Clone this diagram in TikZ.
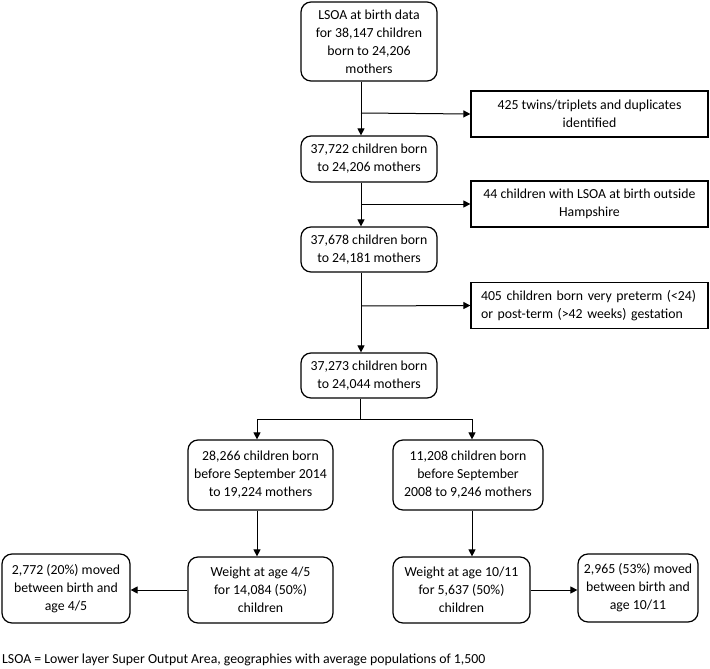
\documentclass[tikz,border=0pt]{standalone}
\usepackage{fontspec}
\setmainfont{Carlito}
\usetikzlibrary{arrows.meta}
\begin{document}
\begin{tikzpicture}[x=1pt,y=-1pt,
  every node/.style={font=\fontsize{13.8}{18}\selectfont, inner sep=0pt},
  rbox/.style={draw, line width=1.2pt, rounded corners=10pt, align=center},
  ebox/.style={draw, line width=1.2pt, align=center, minimum width=237pt, minimum height=46pt},
  conn/.style={line width=1pt},
  arr/.style={conn, -{Triangle[length=7pt,width=7pt]}}]
\useasboundingbox (0,0) rectangle (710,669);
% main column
\node[rbox, minimum width=136pt, minimum height=79pt] (b1) at (369,41.5) {LSOA at birth data\\for 38,147 children\\born to 24,206\\mothers};
\node[rbox, minimum width=136pt, minimum height=46pt] (b2) at (369,159) {37,722 children born\\to 24,206 mothers};
\node[rbox, minimum width=136pt, minimum height=45pt] (b3) at (369,249.5) {37,678 children born\\to 24,181 mothers};
\node[rbox, minimum width=136pt, minimum height=45pt] (b4) at (369,375.5) {37,273 children born\\to 24,044 mothers};
% exclusion boxes
\node[ebox] (e1) at (589.5,114) {425 twins/triplets and duplicates\\identified};
\node[ebox] (e2) at (589.5,204) {44 children with LSOA at birth outside\\Hampshire};
\node[ebox, align=left, text width=217pt] (e3) at (589.5,305.5) {405 children born very preterm (<24)\\or post-term (>42 weeks) gestation};
% branches
\node[rbox, minimum width=145pt, minimum height=70pt] (b5) at (260.5,475) {28,266 children born\\before September 2014\\to 19,224 mothers};
\node[rbox, minimum width=150pt, minimum height=70pt] (b6) at (468,475) {11,208 children born\\before September\\2008 to 9,246 mothers};
\node[rbox, minimum width=145pt, minimum height=66pt] (b7) at (260.5,590) {Weight at age 4/5\\for 14,084 (50\%)\\children};
\node[rbox, minimum width=137pt, minimum height=66pt] (b9) at (461.5,590) {Weight at age 10/11\\for 5,637 (50\%)\\children};
\node[rbox, minimum width=128pt, minimum height=69pt] (b8) at (66,588.5) {2,772 (20\%) moved\\between birth and\\age 4/5};
\node[rbox, minimum width=120pt, minimum height=68pt] (b10) at (638,588) {2,965 (53\%) moved\\between birth and\\age 10/11};
% footnote
\node[anchor=west] (fn) at (2,660) {LSOA = Lower layer Super Output Area, geographies with average populations of 1,500};
% connectors
\coordinate (m) at (361,0);
\coordinate (j1) at (361,113);
\coordinate (j2) at (361,204);
\coordinate (j3) at (361,306);
\draw[arr] (b1.south -| m) -- (b2.north -| m);
\draw[arr] (j1) -- (e1.west);
\draw[arr] (b2.south -| m) -- (b3.north -| m);
\draw[arr] (j2) -- (e2.west);
\draw[arr] (b3.south -| m) -- (b4.north -| m);
\draw[arr] (j3) -- (e3.west);
\coordinate (s) at (360,419);
\coordinate (lx) at (257,0);
\coordinate (rx) at (472,0);
\draw[conn] (b4.south -| s) -- (s);
\draw[arr] (s) -| (b5.north -| lx);
\draw[arr] (s) -| (b6.north -| rx);
\draw[arr] (b5.south -| lx) -- (b7.north -| lx);
\draw[arr] (b6.south -| rx) -- (b9.north -| rx);
\draw[arr] (b7.west) -- (b8.east |- b7.west);
\draw[arr] (b9.east) -- (b10.west |- b9.east);
\end{tikzpicture}
\end{document}
